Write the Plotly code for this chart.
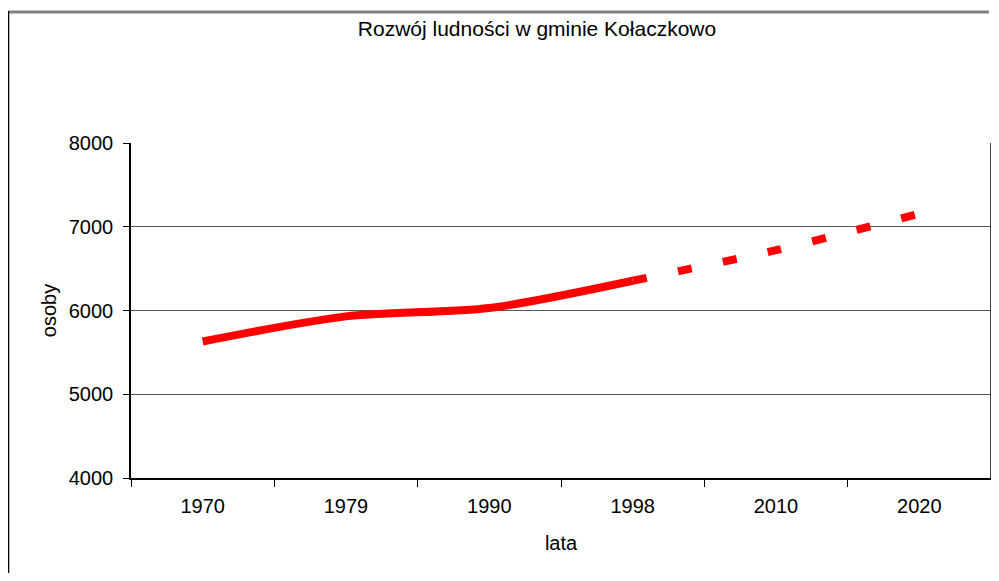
import plotly.graph_objects as go

years_actual = ["1970", "1979", "1990", "1998"]
pop_actual = [5630, 5930, 6030, 6355]
years_forecast = ["1998", "2010", "2020"]
pop_forecast = [6355, 6720, 7155]
categories = ["1970", "1979", "1990", "1998", "2010", "2020"]
y_ticks = [4000, 5000, 6000, 7000, 8000]

FONT = "Liberation Sans, Arial, sans-serif"

fig = go.Figure()
fig.add_trace(go.Scatter(
    x=years_forecast, y=pop_forecast, mode="lines",
    line=dict(color="#FF0000", width=8, dash="14px,32px", shape="spline", smoothing=0.6),
    showlegend=False, hoverinfo="skip"))
fig.add_trace(go.Scatter(
    x=years_actual, y=pop_actual, mode="lines",
    line=dict(color="#FF0000", width=8, shape="spline", smoothing=0.8),
    showlegend=False, hoverinfo="skip"))

# page has an 8px body margin; work in screen pixels and shift
OFF = 8
W, H = 999 - 2 * OFF, 581 - 2 * OFF
L, R, T = 131 - OFF, (999 - 2 * OFF) - (993 - OFF), 143 - OFF
B = H - (478 - OFF)
pw, ph = W - L - R, H - T - B

def px2x(px):
    return (px - OFF - L) / pw

def py2y(py):
    return (H - B - (py - OFF)) / ph

fig.update_layout(
    width=W, height=H,
    margin=dict(l=L, r=max(R, 0), t=T, b=B, pad=0),
    paper_bgcolor="white", plot_bgcolor="white",
    font=dict(family=FONT, size=20, color="black"),
    title=dict(text="Rozwój ludności w gminie Kołaczkowo", x=(537 - OFF) / W,
               xanchor="center", y=1 - (29 - OFF) / H, yanchor="middle",
               font=dict(family=FONT, size=21, color="black")),
    xaxis=dict(type="category", categoryorder="array", categoryarray=categories,
               range=[-0.5, 5.5], showgrid=False, showline=True, linecolor="black",
               linewidth=1.5, ticks="outside", tickson="boundaries", ticklen=7,
               tickcolor="black", tickwidth=1.2, ticklabelstandoff=9,
               title=dict(text="lata", standoff=20, font=dict(size=20)),
               zeroline=False, fixedrange=True),
    yaxis=dict(range=[4000, 8000], tickvals=y_ticks, showgrid=True, gridcolor="#555555",
               gridwidth=1.2, showline=True, linecolor="black", linewidth=1.5,
               ticks="outside", ticklen=6, tickcolor="black", tickwidth=1.2,
               ticklabelstandoff=6,
               title=dict(text="osoby", standoff=7, font=dict(size=20)),
               zeroline=False, fixedrange=True),
    shapes=[
        dict(type="line", xref="paper", yref="paper", x0=1, x1=1, y0=0, y1=1,
             line=dict(color="#444444", width=2), layer="above"),
        dict(type="line", xref="paper", yref="paper", x0=px2x(8), x1=(W - L) / pw,
             y0=py2y(12), y1=py2y(12), line=dict(color="#808080", width=3)),
        dict(type="line", xref="paper", yref="paper", x0=px2x(8), x1=px2x(8),
             y0=py2y(11), y1=-B / ph, line=dict(color="black", width=2)),
    ],
)

fig.write_html("out.html")
